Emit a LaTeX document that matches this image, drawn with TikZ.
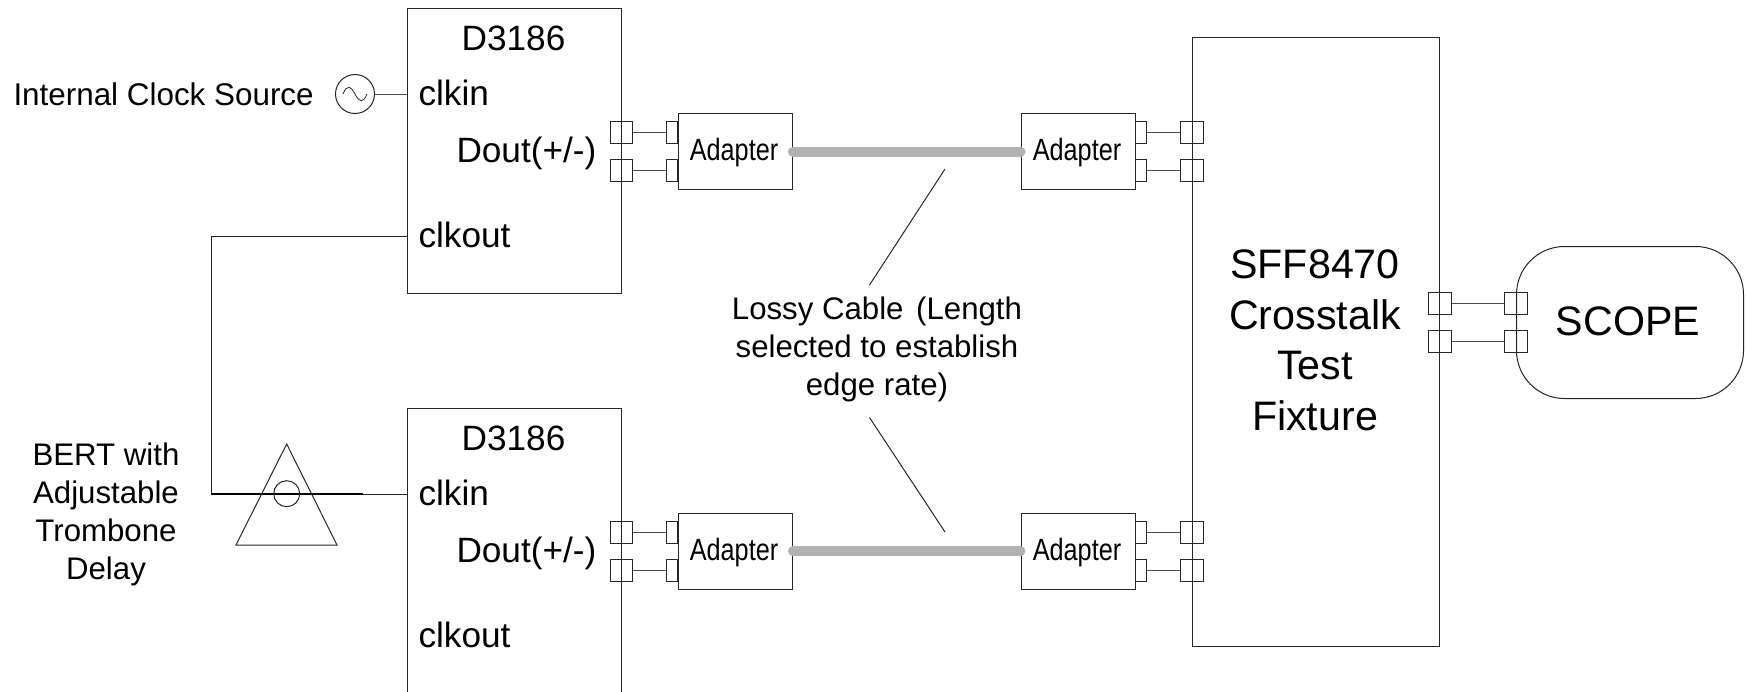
\documentclass[tikz,border=0pt]{standalone}
\usepackage{fontspec}
\setmainfont{Liberation Sans}
\newfontfamily\narrowface[FakeStretch=0.82]{Liberation Sans}
\tikzset{
  bx/.style={draw,rectangle,inner sep=0,anchor=north west},
  devbox/.style={bx,minimum width=107pt,minimum height=142.5pt},
  fixbox/.style={bx,minimum width=123.5pt,minimum height=304.5pt},
  adbox/.style={bx,minimum width=57.25pt,minimum height=38pt},
  port/.style={draw,rectangle,inner sep=0,minimum width=11.25pt,minimum height=11pt},
  stub/.style={draw,rectangle,inner sep=0,minimum width=5.5pt,minimum height=11pt},
  ring/.style={draw,circle,inner sep=0,minimum size=19.5pt},
  cable/.style={line width=5pt,draw=black!30,line cap=round},
  wire/.style={line width=0.5pt,draw=black!70},
  lblbase/.style={inner sep=0,text=black},
  big/.style={lblbase,anchor=base,font=\fontsize{20.6pt}{24pt}\selectfont},
  mid/.style={lblbase,anchor=base,font=\fontsize{17.6pt}{20pt}\selectfont},
  midl/.style={lblbase,anchor=base west,font=\fontsize{17.6pt}{20pt}\selectfont},
  sm/.style={lblbase,anchor=base,font=\fontsize{15.6pt}{18pt}\selectfont},
  sml/.style={lblbase,anchor=base west,font=\fontsize{15.7pt}{18pt}\selectfont},
  adtxt/.style={lblbase,anchor=base,font=\narrowface\fontsize{15.4pt}{18pt}\selectfont},
}
\begin{document}
\begin{tikzpicture}[x=0.5pt,y=-0.5pt,line width=0.5pt,color=black!85]
\clip (0,0) rectangle (1746,691);
% devices
\node[devbox] (d1) at (407,8) {};
\node[devbox,minimum height=170pt] (d2) at (407,408) {};
\node[fixbox] (fix) at (1192,37) {};
\node[draw,rectangle,rounded corners=24pt,inner sep=0,minimum width=113.5pt,minimum height=76pt,anchor=north west] (scope) at (1516,246) {};
% adapters
\node[adbox] (a1) at (677.5,113) {};
\node[adbox] (a2) at (1020.5,113) {};
\node[adbox] (a3) at (677.5,512.5) {};
\node[adbox] (a4) at (1020.5,512.5) {};
% ports, upper row
\node[port] (p1a) at (621.5,132) {};
\node[port] (p1b) at (621.5,170) {};
\node[stub] (s1a) at (672,132) {};
\node[stub] (s1b) at (672,170) {};
\node[stub] (s2a) at (1140.5,132) {};
\node[stub] (s2b) at (1140.5,170) {};
\node[port] (f1a) at (1192,132) {};
\node[port] (f1b) at (1192,170) {};
% ports, lower row
\node[port] (p3a) at (621.5,532) {};
\node[port] (p3b) at (621.5,570) {};
\node[stub] (s3a) at (672,532) {};
\node[stub] (s3b) at (672,570) {};
\node[stub] (s4a) at (1140.5,532) {};
\node[stub] (s4b) at (1140.5,570) {};
\node[port] (f4a) at (1192,532) {};
\node[port] (f4b) at (1192,570) {};
% ports, scope
\node[port] (f5a) at (1440,303) {};
\node[port] (f5b) at (1440,341) {};
\node[port] (c5a) at (1516,303) {};
\node[port] (c5b) at (1516,341) {};
% short wires
\foreach \a/\b in {p1a/s1a,p1b/s1b,s2a/f1a,s2b/f1b,p3a/s3a,p3b/s3b,s4a/f4a,s4b/f4b,f5a/c5a,f5b/c5b}
  \draw[wire] (\a.east) -- (\b.west);
% cables
\draw[cable] (a1.east) -- (a2.west);
\draw[cable] (a3.east) -- (a4.west);
% clock source
\node[ring] (clk) at (355,94) {};
\coordinate (clkpin) at (407,94);
\draw[wire] (clk.east) -- (clkpin);
\draw[line width=0.4pt] (343,94) .. controls (347,84) and (351,86) .. (355,94) .. controls (359,102) and (363,104) .. (367,94);
% trombone delay
\coordinate (outpin) at (407,236.5);
\coordinate (inpin) at (407,494);
\coordinate (bend) at (211,236.5);
\coordinate (foot) at (211,494);
\coordinate (thick) at (363,494);
\draw[wire,draw=black!85] (outpin) -- (bend) -- (foot) -- (inpin);
\draw[line width=0.9pt,draw=black] (foot) -- (thick);
\node[draw,circle,inner sep=0,minimum size=13pt] (trom) at (286.7,493.7) {};
\draw (286.7,444) -- (337,545) -- (236,545) -- cycle;
% leaders
\coordinate (l1a) at (945,169);
\coordinate (l1b) at (869.5,285);
\coordinate (l2a) at (869.5,417.5);
\coordinate (l2b) at (945,532);
\draw (l1a) -- (l1b);
\draw (l2a) -- (l2b);
% labels
\node[mid] (t1) at (513.5,50) {D3186};
\node[mid] (t2) at (513.5,450) {D3186};
\node[midl] (t3) at (418,105.5) {clkin};
\node[midl] (t4) at (418,505.5) {clkin};
\node[midl] (t5) at (456,162.5) {Dout(+/-)};
\node[midl] (t6) at (456,562.5) {Dout(+/-)};
\node[midl] (t7) at (418,247.5) {clkout};
\node[midl] (t8) at (418,647.5) {clkout};
\node[sml] (t9) at (13,105.5) {Internal Clock Source};
\node[sm] (b1) at (106,465) {BERT with};
\node[sm] (b2) at (106,503) {Adjustable};
\node[sm] (b3) at (106,541) {Trombone};
\node[sm] (b4) at (106,579) {Delay};
\node[sm] (c1) at (877,319.5) {Lossy Cable\hspace{2pt} (Length};
\node[sm] (c2) at (877,357.5) {selected to establish};
\node[sm] (c3) at (877,395.5) {edge rate)};
\node[adtxt] (ta1) at (734,160) {Adapter};
\node[adtxt] (ta2) at (1077,160) {Adapter};
\node[adtxt] (ta3) at (734,560) {Adapter};
\node[adtxt] (ta4) at (1077,560) {Adapter};
\node[big] (f1) at (1315,278) {SFF8470};
\node[big] (f2) at (1315,329) {Crosstalk};
\node[big] (f3) at (1315,379) {Test};
\node[big] (f4) at (1315,430) {Fixture};
\node[big] (s1) at (1628,335.5) {SCOPE};
\end{tikzpicture}
\end{document}
